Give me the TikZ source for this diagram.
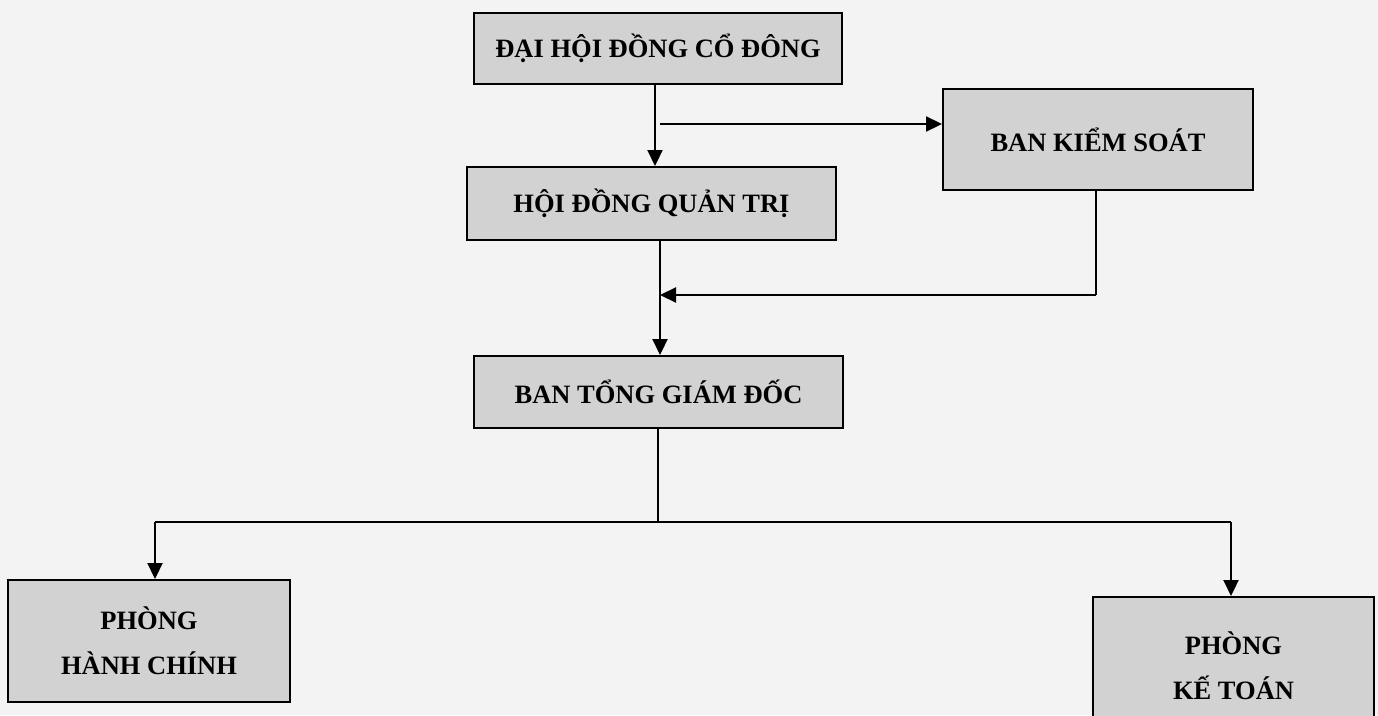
\documentclass[tikz,border=0pt]{standalone}
\usepackage{fontspec}
\setmainfont{Liberation Serif}
\usetikzlibrary{arrows.meta}
\definecolor{boxgray}{RGB}{210,210,210}
\definecolor{bggray}{RGB}{243,243,243}
\begin{document}
\begin{tikzpicture}[x=1pt,y=-1pt,
  box/.style={draw=black, line width=2pt, fill=boxgray, inner sep=0pt,
    font=\fontsize{26.5}{45}\selectfont\bfseries, align=center},
  arr/.style={line width=2.2pt, -{Triangle[length=16pt,width=15pt]}},
  ln/.style={line width=2.2pt}]
\fill[bggray] (0,0) rectangle (1378,715);
\useasboundingbox (0,0) rectangle (1378,715);

\node[box, minimum width=368pt, minimum height=71pt] (dh) at (658,48.5) {ĐẠI HỘI ĐỒNG CỔ ĐÔNG};
\node[box, minimum width=369pt, minimum height=73pt] (hd) at (651.5,203.5) {HỘI ĐỒNG QUẢN TRỊ};
\node[box, minimum width=310pt, minimum height=101pt] (ks) at (1098,139.5) {BAN KIỂM SOÁT};
\node[box, minimum width=369pt, minimum height=72pt] (tg) at (658.5,392) {BAN TỔNG GIÁM ĐỐC};
\node[box, minimum width=282pt, minimum height=122pt] (hc) at (149,641) {PHÒNG\\HÀNH CHÍNH};
\node[box, minimum width=281pt, minimum height=138pt] (kt) at (1233.5,666) {PHÒNG\\KẾ TOÁN};

\coordinate (p1) at (655,124);
\coordinate (p1s) at (660,124);
\draw[arr] (dh.south -| p1) -- (hd.north -| p1);
\draw[arr] (p1s) -- (ks.west |- p1s);

\coordinate (p2) at (1096,295);
\coordinate (p3) at (660,295);
\draw[ln] (ks.south -| p2) -- (p2);
\draw[arr] (p2) -- (p3);
\draw[arr] (hd.south -| p3) -- (tg.north -| p3);

\coordinate (j) at (658,522);
\coordinate (l) at (155,522);
\coordinate (r) at (1231,522);
\draw[ln] (tg.south -| j) -- (j);
\draw[ln] (l) -- (r);
\draw[arr] (l) -- (hc.north -| l);
\draw[arr] (r) -- (kt.north -| r);
\end{tikzpicture}
\end{document}
